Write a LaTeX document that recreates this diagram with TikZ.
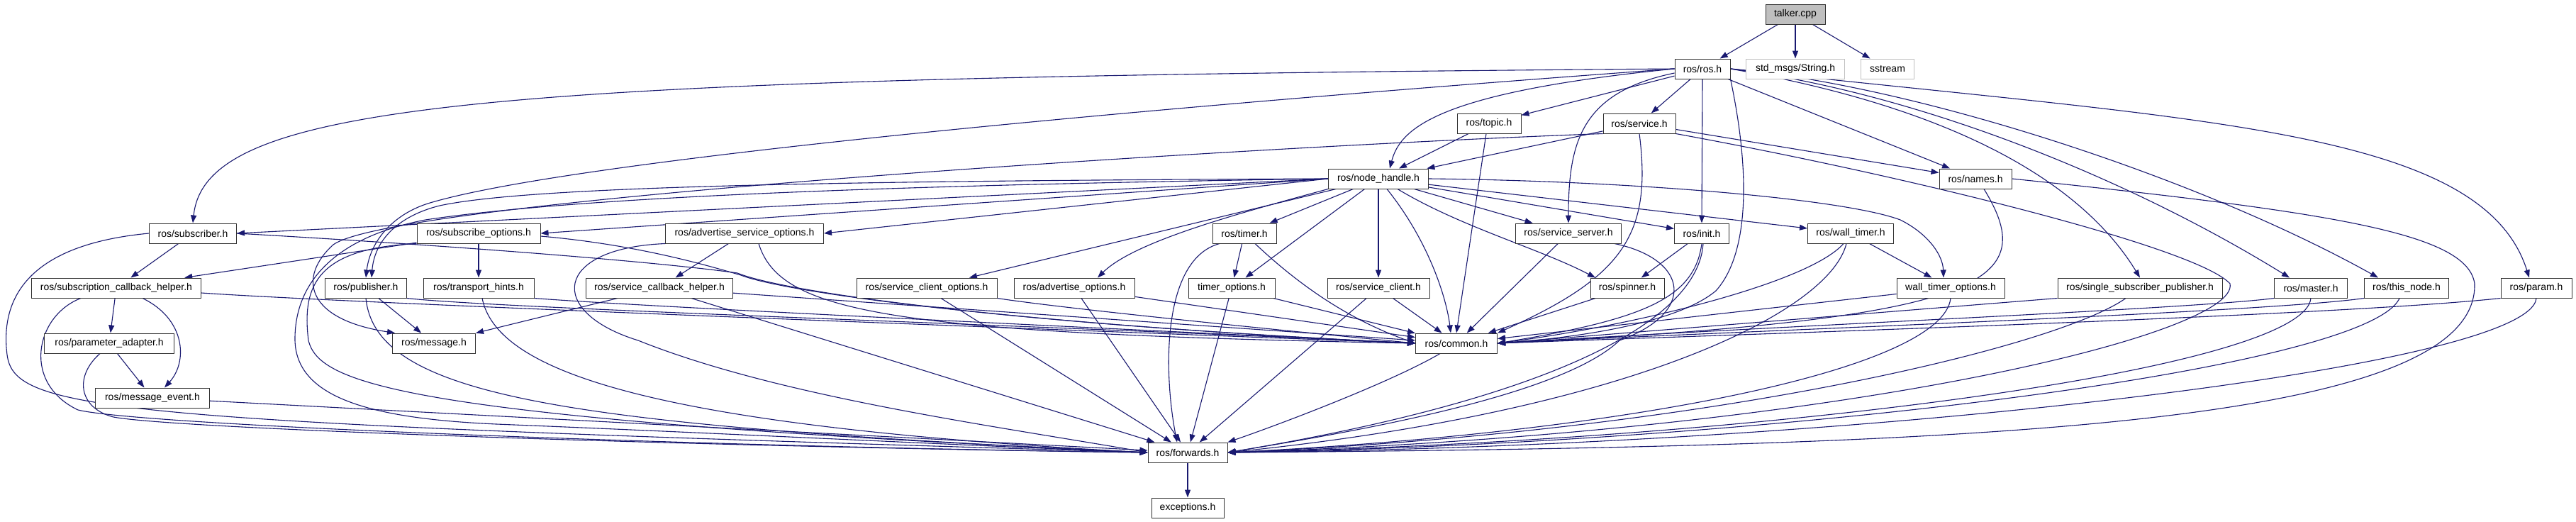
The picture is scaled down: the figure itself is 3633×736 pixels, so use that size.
\documentclass[tikz,border=0pt]{standalone}
\usepackage{fontspec}
\setmainfont{Liberation Sans}
\usetikzlibrary{arrows.meta}
\definecolor{edgecol}{HTML}{191970}
\definecolor{greyb}{HTML}{BFBFBF}
\definecolor{boxb}{HTML}{303030}
\pgfdeclarelayer{bg}
\pgfdeclarelayer{edges}
\pgfsetlayers{bg,edges,main}
\begin{document}
\begin{tikzpicture}[x=1pt,y=-1pt,
  box/.style={draw=boxb, line width=1pt, fill=white, minimum height=28pt, inner sep=2pt, font=\fontsize{14}{16}\selectfont},
  greybox/.style={box, draw=greyb},
  rootbox/.style={box, fill=greyb},
  dep/.style={draw=edgecol, line width=1.1pt, -{Triangle[length=11pt,width=8pt]}}]
\begin{pgfonlayer}{bg}
\fill[white] (0,0) rectangle (3633,736);
\end{pgfonlayer}
\useasboundingbox (0,0) rectangle (3633,736);
% row 0-1
\node[rootbox, minimum width=84pt] (talker) at (2532,20) {talker.cpp};
\node[box, minimum width=78pt] (ros) at (2401,97) {ros/ros.h};
\node[greybox, minimum width=139pt] (stdmsgs) at (2532,97) {std\_msgs/String.h};
\node[greybox, minimum width=75pt] (sstream) at (2662,97) {sstream};
% row 2
\node[box, minimum width=90pt] (topic) at (2100,174) {ros/topic.h};
\node[box, minimum width=102pt] (service) at (2312,174) {ros/service.h};
% row 3
\node[box, minimum width=141pt] (nh) at (1944,252) {ros/node\_handle.h};
\node[box, minimum width=102pt] (names) at (2786,252) {ros/names.h};
% row 4
\node[box, minimum width=123pt] (subscriber) at (272,329) {ros/subscriber.h};
\node[box, minimum width=174pt] (subopt) at (675,329) {ros/subscribe\_options.h};
\node[box, minimum width=223pt] (advsrvopt) at (1050,329) {ros/advertise\_service\_options.h};
\node[box, minimum width=90pt] (timer) at (1755,329) {ros/timer.h};
\node[box, minimum width=149pt] (srvserver) at (2212,329) {ros/service\_server.h};
\node[box, minimum width=77pt] (init) at (2400,329) {ros/init.h};
\node[box, minimum width=121pt] (walltimer) at (2610,329) {ros/wall\_timer.h};
% row 5
\node[box, minimum width=239pt] (subcb) at (164,406) {ros/subscription\_callback\_helper.h};
\node[box, minimum width=115pt] (publisher) at (516,406) {ros/publisher.h};
\node[box, minimum width=156pt] (transport) at (675,406) {ros/transport\_hints.h};
\node[box, minimum width=207pt] (srvcb) at (930,406) {ros/service\_callback\_helper.h};
\node[box, minimum width=198pt] (srvclientopt) at (1307,406) {ros/service\_client\_options.h};
\node[box, minimum width=170pt] (advopt) at (1515,406) {ros/advertise\_options.h};
\node[box, minimum width=122pt] (timeropt) at (1737,406) {timer\_options.h};
\node[box, minimum width=144pt] (srvclient) at (1944,406) {ros/service\_client.h};
\node[box, minimum width=104pt] (spinner) at (2295,406) {ros/spinner.h};
\node[box, minimum width=152pt] (walltimeropt) at (2751,406) {wall\_timer\_options.h};
\node[box, minimum width=232pt] (ssp) at (3018,406) {ros/single\_subscriber\_publisher.h};
\node[box, minimum width=103pt] (master) at (3259,406) {ros/master.h};
\node[box, minimum width=119pt] (thisnode) at (3394,406) {ros/this\_node.h};
\node[box, minimum width=100pt] (param) at (3577,406) {ros/param.h};
% row 6-9
\node[box, minimum width=183pt] (paramadapter) at (154,484) {ros/parameter\_adapter.h};
\node[box, minimum width=117pt] (message) at (612,484) {ros/message.h};
\node[box, minimum width=115pt] (common) at (2054,484) {ros/common.h};
\node[box, minimum width=161pt] (msgevent) at (215,561) {ros/message\_event.h};
\node[box, minimum width=112pt] (forwards) at (1675,638) {ros/forwards.h};
\node[box, minimum width=102pt] (exceptions) at (1675,716) {exceptions.h};

\begin{pgfonlayer}{edges}
% talker.cpp
\draw[dep] (talker) -- (ros);
\draw[dep] (talker) -- (stdmsgs);
\draw[dep] (talker) -- (sstream);
% ros/ros.h
\draw[dep] (ros.west) .. controls (700,110) and (290,140) .. (subscriber.north);
\draw[dep] (ros.west) .. controls (1500,160) and (800,230) .. (610,285) .. controls (555,300) and (522,340) .. (publisher.north);
\draw[dep] (ros.west) .. controls (2030,130) and (1975,180) .. ([xshift=16pt]nh.north);
\draw[dep] (ros) -- (topic);
\draw[dep] (ros) -- (service);
\draw[dep] ([yshift=-6pt]ros.west) .. controls (2230,130) and (2212,200) .. (srvserver.north);
\draw[dep] (ros.south) -- (init.north);
\draw[dep] (ros.south east) .. controls (2470,250) and (2465,360) .. (2420,410) .. controls (2360,460) and (2200,478) .. (common.east);
\draw[dep] (ros) -- (names);
\draw[dep] (ros.east) .. controls (2800,160) and (2950,280) .. (ssp.north);
\draw[dep] (ros.east) .. controls (2700,130) and (3000,250) .. ([xshift=-30pt]master.north);
\draw[dep] (ros.east) .. controls (2700,120) and (3100,250) .. ([xshift=-40pt]thisnode.north);
\draw[dep] (ros.east) .. controls (3100,170) and (3500,180) .. ([xshift=-10pt]param.north);
% topic, service
\draw[dep] (topic) -- (nh);
\draw[dep] ([xshift=-4pt]topic.south) -- (common.north);
\draw[dep] (service) -- (nh);
\draw[dep] (service) -- (names);
\draw[dep] (service.south) .. controls (2330,330) and (2290,390) .. (common.north east);
\draw[dep] (service.south east) .. controls (2700,250) and (3100,350) .. (3145,400) .. controls (3160,470) and (2600,610) .. (forwards.east);
\draw[dep] (service.south west) .. controls (1800,205) and (560,280) .. (470,345) .. controls (420,390) and (430,450) .. ([xshift=-55pt]message.north);
% node_handle
\draw[dep] (nh.west) -- (subscriber.east);
\draw[dep] (nh.west) -- (subopt.east);
\draw[dep] (nh.west) -- (advsrvopt.east);
\draw[dep] (nh.west) .. controls (1200,255) and (750,262) .. (620,290) .. controls (560,305) and (528,340) .. ([xshift=8pt]publisher.north);
\draw[dep] (nh.west) .. controls (1200,262) and (800,280) .. (600,310) .. controls (470,335) and (415,400) .. (416,480) .. controls (418,560) and (520,590) .. (700,598) .. controls (1000,610) and (1400,630) .. (forwards.west);
\draw[dep] (nh) -- (srvclientopt);
\draw[dep] (nh.south west) .. controls (1750,300) and (1600,340) .. ([xshift=33pt]advopt.north);
\draw[dep] (nh) -- (timer);
\draw[dep] (nh) -- (timeropt);
\draw[dep] (nh) -- (srvclient);
\draw[dep] ([xshift=12pt]nh.south) .. controls (2015,340) and (2040,420) .. ([xshift=-8pt]common.north);
\draw[dep] (nh) -- (srvserver);
\draw[dep] ([xshift=27pt]nh.south) .. controls (2060,320) and (2170,350) .. ([xshift=-45pt]spinner.north);
\draw[dep] (nh) -- (init);
\draw[dep] (nh) -- (walltimer);
\draw[dep] (nh.east) .. controls (2300,255) and (2600,280) .. (2680,310) .. controls (2720,330) and (2740,360) .. ([xshift=-10pt]walltimeropt.north);
% names
\draw[dep] ([xshift=12pt]names.south) .. controls (2880,400) and (2800,450) .. (common.east);
\draw[dep] (names.east) .. controls (3300,300) and (3480,330) .. (3490,400) .. controls (3495,600) and (2800,630) .. (forwards.east);
% subscriber
\draw[dep] (subscriber) -- (subcb);
\draw[dep] (subscriber.east) .. controls (700,350) and (950,372) .. (1040,385) .. controls (1100,410) and (1400,455) .. (common.west);
\draw[dep] (subscriber.west) .. controls (40,345) and (0,420) .. (10,500) .. controls (20,580) and (150,595) .. (forwards.west);
% subscription_callback_helper
\draw[dep] (subcb) -- (paramadapter);
\draw[dep] ([xshift=37pt]subcb.south) .. controls (262,450) and (265,510) .. ([xshift=17pt]msgevent.north);
\draw[dep] ([yshift=-7pt]subcb.east) .. controls (500,428) and (1500,465) .. (common.west);
\draw[dep] ([xshift=-50pt]subcb.south) .. controls (50,445) and (30,540) .. (110,578) .. controls (200,600) and (1000,630) .. (forwards.west);
% parameter_adapter, message_event
\draw[dep] (paramadapter) -- (msgevent);
\draw[dep] ([xshift=-13pt]paramadapter.south) .. controls (105,530) and (110,575) .. (160,588) .. controls (250,605) and (1000,630) .. (forwards.west);
\draw[dep] (msgevent) -- (forwards);
% publisher
\draw[dep] (publisher) -- (message);
\draw[dep] (publisher.south east) .. controls (700,435) and (1500,460) .. (common.west);
\draw[dep] (publisher.south) .. controls (530,560) and (800,600) .. (forwards.west);
% subscribe_options
\draw[dep] (subopt) -- (transport);
\draw[dep] (subopt) -- (subcb);
\draw[dep] ([yshift=-4pt]subopt.east) .. controls (900,345) and (1000,375) .. (1045,388) .. controls (1100,410) and (1400,455) .. (common.west);
\draw[dep] (subopt.south west) .. controls (450,350) and (425,400) .. (435,480) .. controls (450,540) and (560,590) .. (forwards.west);
% transport_hints
\draw[dep] (transport.south east) .. controls (900,432) and (1500,460) .. (common.west);
\draw[dep] ([xshift=5pt]transport.south) .. controls (700,520) and (900,600) .. (forwards.west);
% advertise_service_options
\draw[dep] (advsrvopt) -- (srvcb);
\draw[dep] ([xshift=20pt]advsrvopt.south) .. controls (1100,440) and (1250,470) .. (common.west);
\draw[dep] (advsrvopt.south west) .. controls (780,350) and (770,440) .. (900,480) .. controls (1100,560) and (1400,600) .. (forwards.west);
% service_callback_helper
\draw[dep] (srvcb) -- (message);
\draw[dep] (srvcb) -- (common);
\draw[dep] ([xshift=45pt]srvcb.south) -- (forwards);
% service_client_options, advertise_options
\draw[dep] (srvclientopt.south east) .. controls (1500,435) and (1800,465) .. (common.west);
\draw[dep] ([xshift=20pt]srvclientopt.south) -- (forwards);
\draw[dep] (advopt) -- (common);
\draw[dep] (advopt) -- (forwards);
% timer
\draw[dep] (timer) -- (timeropt);
\draw[dep] ([xshift=15pt]timer.south) .. controls (1830,400) and (1900,450) .. (common.west);
\draw[dep] ([xshift=-35pt]timer.south) .. controls (1640,365) and (1640,520) .. ([xshift=-15pt]forwards.north);
\draw[dep] (timeropt) -- (common);
\draw[dep] (timeropt) -- (forwards);
% service_client
\draw[dep] (srvclient) -- (common);
\draw[dep] (srvclient) -- (forwards);
% service_server
\draw[dep] (srvserver) -- (common);
\draw[dep] ([xshift=65pt]srvserver.south) .. controls (2380,365) and (2395,440) .. (2284,480) .. controls (2200,560) and (1900,610) .. (forwards.east);
% init, spinner
\draw[dep] (init) -- (spinner);
\draw[dep] (init.south) .. controls (2390,420) and (2320,450) .. (common.east);
\draw[dep] ([xshift=2pt]init.south) .. controls (2395,450) and (2200,560) .. (forwards.east);
\draw[dep] (spinner) -- (common);
% wall_timer
\draw[dep] (walltimer) -- (walltimeropt);
\draw[dep] ([xshift=-10pt]walltimer.south) .. controls (2550,400) and (2300,460) .. (common.east);
\draw[dep] ([xshift=-6pt]walltimer.south) .. controls (2580,440) and (2300,580) .. (forwards.east);
\draw[dep] (walltimeropt) -- (common);
\draw[dep] (walltimeropt.south) .. controls (2740,520) and (2300,610) .. (forwards.east);
% right side
\draw[dep] (ssp.south west) -- (common.east);
\draw[dep] ([xshift=-20pt]ssp.south) .. controls (2900,490) and (2400,610) .. (forwards.east);
\draw[dep] (master.south west) .. controls (3100,435) and (2500,460) .. (common.east);
\draw[dep] (master.south) .. controls (3250,520) and (2500,620) .. (forwards.east);
\draw[dep] (thisnode.south west) .. controls (3200,440) and (2500,465) .. (common.east);
\draw[dep] ([xshift=-10pt]thisnode.south) .. controls (3340,520) and (2500,625) .. (forwards.east);
\draw[dep] (param.south west) .. controls (3300,445) and (2500,470) .. (common.east);
\draw[dep] (param.south) .. controls (3568,520) and (2600,630) .. (forwards.east);
% common, forwards
\draw[dep] ([xshift=-23pt]common.south) .. controls (1960,540) and (1800,600) .. (forwards.north east);
\draw[dep] (forwards) -- (exceptions);
\end{pgfonlayer}
\end{tikzpicture}
\end{document}
